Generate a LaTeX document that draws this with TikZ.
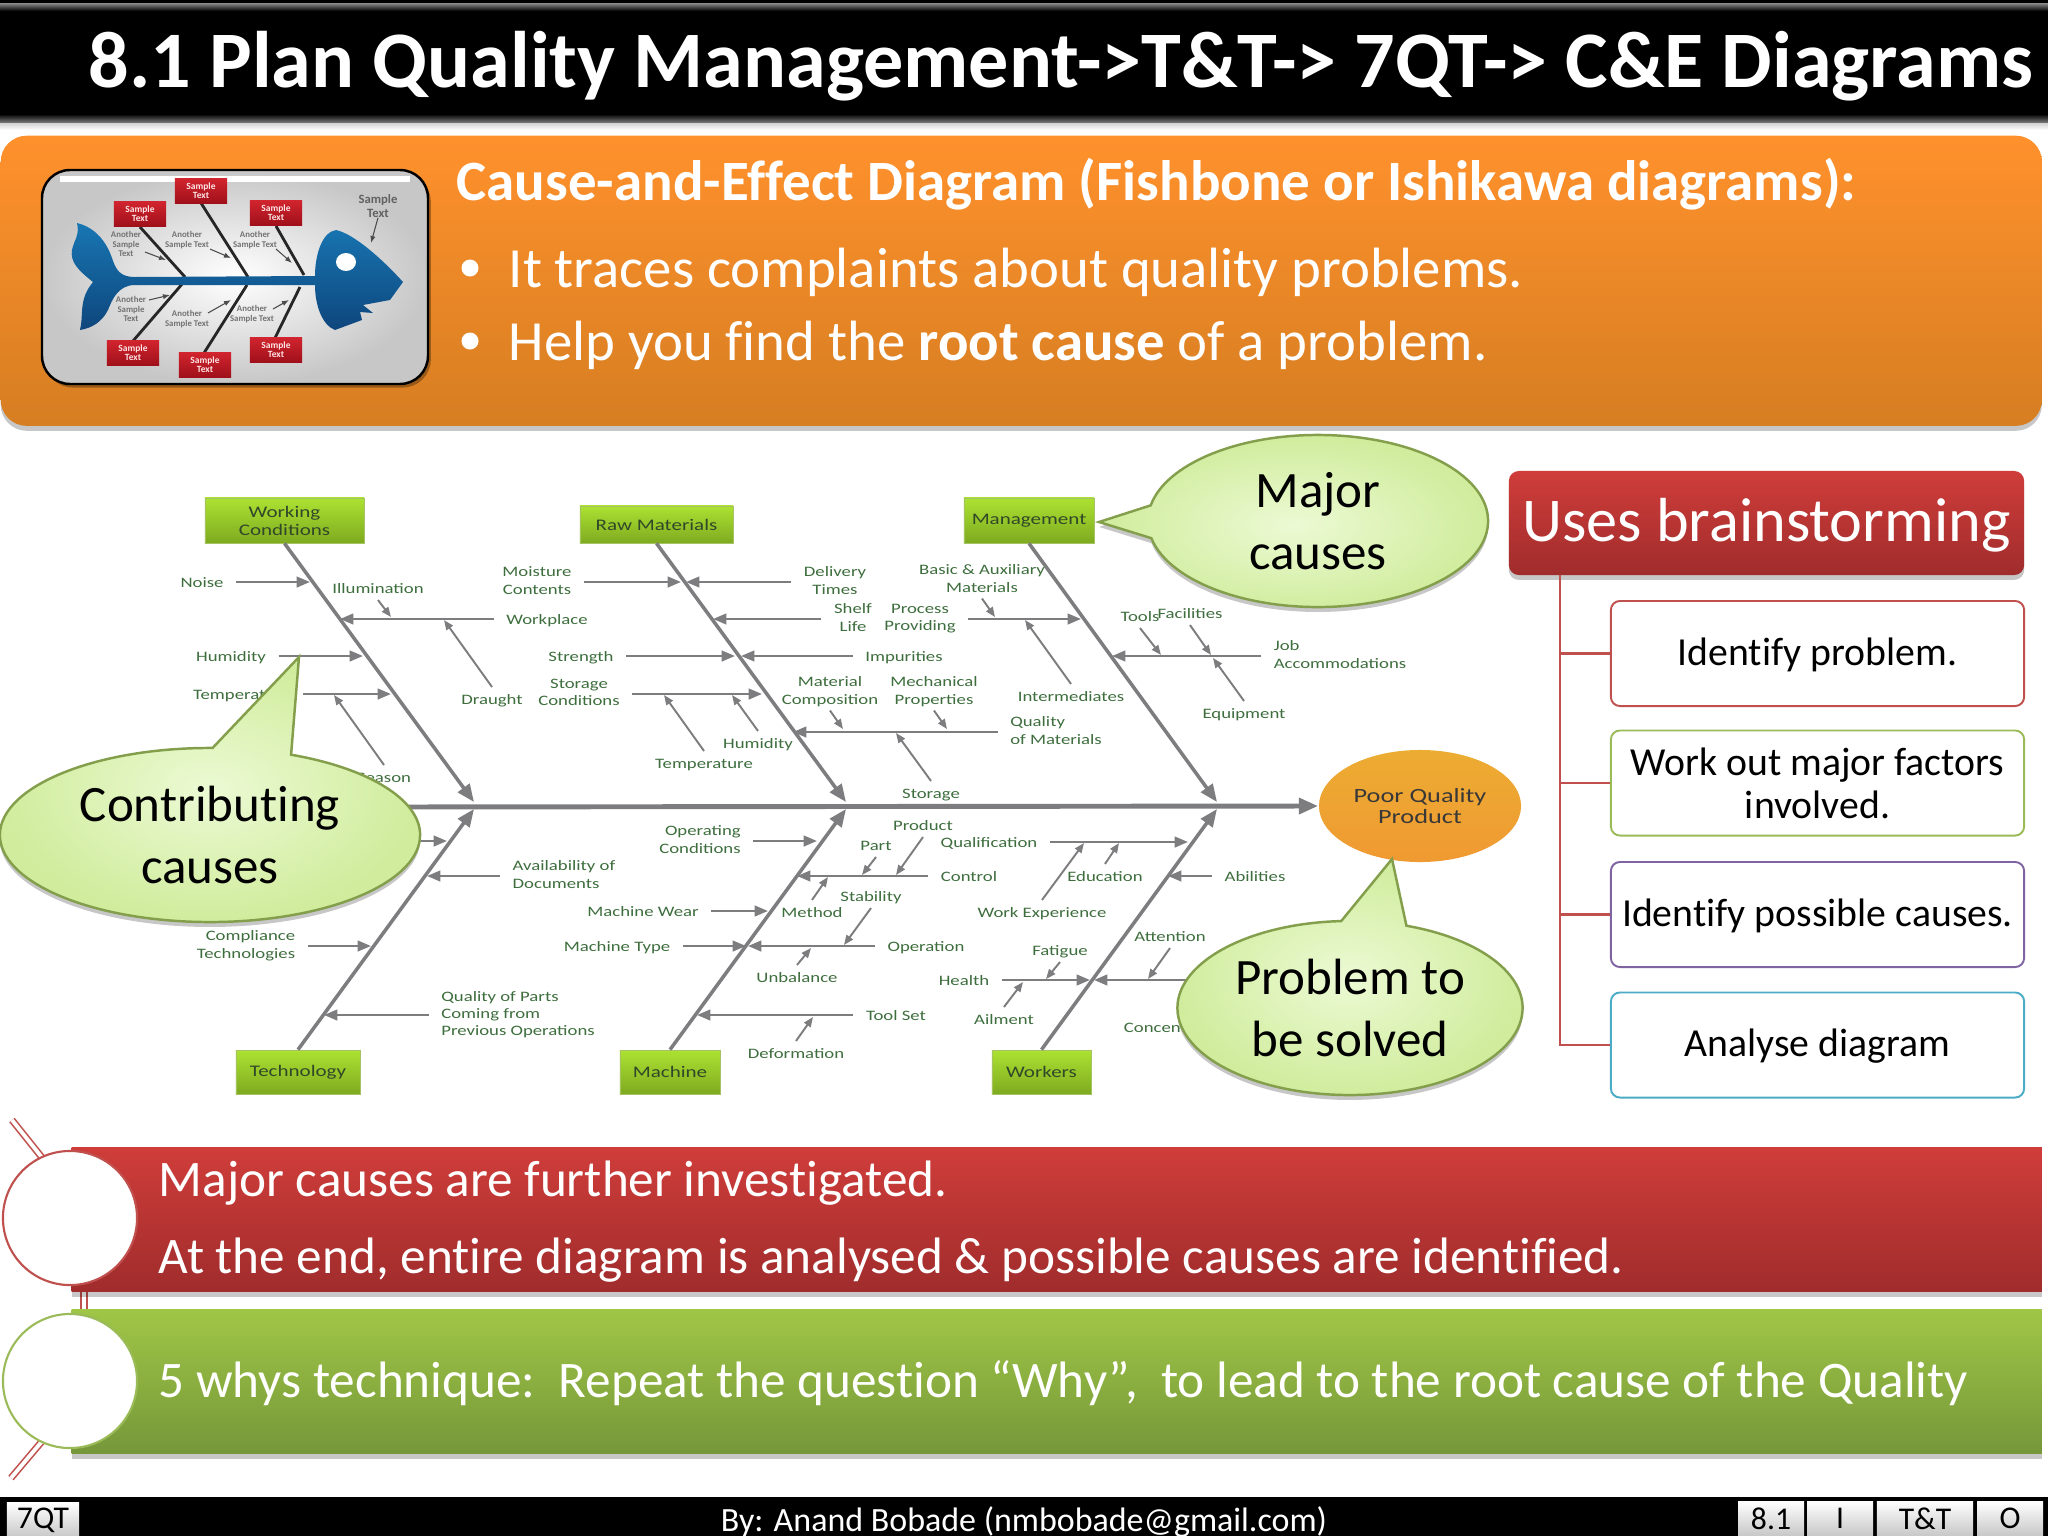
\documentclass[tikz,border=0pt]{standalone}
\usepackage{fontspec}
\setmainfont[Ligatures=NoCommon]{Carlito}
\newfontfamily\fishfont[FakeStretch=1.3]{Carlito}
\usetikzlibrary{arrows.meta,shapes.geometric,shapes.callouts,shadows}
\definecolor{headred}{RGB}{207,61,58}
\definecolor{footred}{RGB}{160,44,44}
\definecolor{linered}{RGB}{192,80,77}
\definecolor{headgreen}{RGB}{160,198,70}
\definecolor{footgreen}{RGB}{118,151,58}
\definecolor{linegreen}{RGB}{155,187,89}
\definecolor{linepurple}{RGB}{128,100,162}
\definecolor{linecyan}{RGB}{75,172,198}
\definecolor{ocretop}{RGB}{255,145,44}
\definecolor{ocrebot}{RGB}{214,126,34}
\definecolor{bonegray}{RGB}{125,125,128}
\definecolor{causegreen}{RGB}{62,110,62}
\definecolor{fishtop}{RGB}{24,118,178}
\definecolor{fishbot}{RGB}{14,70,125}
\definecolor{cattop}{RGB}{172,226,50}
\definecolor{catbot}{RGB}{126,170,32}
\definecolor{cattext}{RGB}{48,72,40}
\definecolor{bubin}{RGB}{236,250,212}
\definecolor{bubout}{RGB}{208,236,156}
\definecolor{sampletop}{RGB}{208,36,46}
\definecolor{samplebot}{RGB}{160,16,26}
\definecolor{pqptop}{RGB}{236,172,50}
\definecolor{pqpbot}{RGB}{240,154,50}
\tikzset{
  softshadow/.style={drop shadow={shadow xshift=0pt,shadow yshift=-1.4pt,opacity=.22,fill=black}},
  cause/.style={font=\fishfont\fontsize{4.1}{4.85}\selectfont,text=causegreen,align=center,inner xsep=3.4pt,inner ysep=0.8pt,execute at begin node={\rule{0pt}{4pt}},execute at end node={\rule[-0.85pt]{0pt}{0.85pt}}},
  twig/.style={draw=bonegray,line width=0.7pt,-{Triangle[length=3.8pt,width=3pt]}},
  subtwig/.style={draw=bonegray,line width=0.55pt,-{Triangle[length=2.8pt,width=2.2pt]}},
  bone/.style={draw=bonegray,line width=1pt,-{Triangle[length=5pt,width=4pt]}},
  catbox/.style={rectangle,inner sep=0pt,top color=cattop,bottom color=catbot,draw=catbot!70!white,line width=0.2pt,font=\fishfont\fontsize{4.6}{5.1}\selectfont,text=cattext,align=center},
  bubble/.style={ellipse callout,inner sep=0pt,callout pointer arc=22,inner color=bubin,outer color=bubout,draw=linegreen!85!black,line width=0.7pt,softshadow,font=\fontsize{14.5}{17.6}\selectfont,align=center},
  brainbox/.style={rectangle,rounded corners=0.09cm,draw,line width=0.55pt,fill=white,minimum width=4.13cm,minimum height=1.05cm,inner sep=0pt,font=\fontsize{11.3}{12.3}\selectfont,align=center},
  lowtext/.style={execute at begin node={\rule{0pt}{8.8pt}},execute at end node={\rule[-2.2pt]{0pt}{2.2pt}}},
  samplebox/.style={rectangle,inner sep=0pt,minimum width=0.52cm,minimum height=0.245cm,top color=sampletop,bottom color=samplebot,font=\bfseries\fontsize{2.7}{3}\selectfont,text=white!90!red,align=center},
  sampletext/.style={font=\bfseries\fontsize{2.5}{2.7}\selectfont,text=black!55,align=center,inner sep=0pt},
  samplearrow/.style={draw=black!70,line width=0.3pt,-{Latex[length=2pt,width=1.5pt]}},
  footbox/.style={rectangle,inner sep=0pt,minimum height=0.35cm,top color=white,bottom color=black!22,font=\fontsize{9}{9}\selectfont},
  dblline/.style={draw=linered,line width=0.45pt,double=white,double distance=1.1pt},
}
\newcommand{\twig}[4]{\coordinate (#1tip) at (#3,#4); \draw[twig] (#1.#2) -- (#1tip);}
\newcommand{\subtwig}[4]{\coordinate (#1tip) at (#3,#4); \draw[subtwig] (#1.#2) -- (#1tip);}
\begin{document}
\begin{tikzpicture}[x=0.01cm,y=-0.01cm]
\useasboundingbox (0,0) rectangle (2048,1536);
\fill[white] (0,0) rectangle (2048,1536);

% title and footer
\shade[top color=black!20,bottom color=white] (0,122) rectangle (2048,130);
\fill[black] (0,0) rectangle (2048,122);
\shade[top color=black!45,bottom color=black] (0,3) rectangle (2048,11);
\shade[top color=black,bottom color=black!55] (0,114) rectangle (2048,122);
\node[anchor=west,inner sep=0pt,text=white,font=\bfseries\fontsize{22.8}{24}\selectfont] (title) at (88,66) {8.1 Plan Quality Management->T\&T-> 7QT-> C\&E Diagrams};
\fill[black] (0,1497) rectangle (2048,1536);
\node[footbox,minimum width=0.72cm] (sevenqt) at (43,1520) {7QT};
\node[inner sep=0pt,text=white,font=\fontsize{9.66}{10}\selectfont] (byline) at (1024,1522) {By: Anand Bobade (nmbobade@gmail.com)};
\foreach \nm/\cx/\bw/\lbl in {fsec/1771/0.66/8.1,fi/1840/0.66/I,ftt/1925/0.96/T\&T,fo/2010/0.66/O}
  \node[footbox,minimum width=\bw cm] (\nm) at (\cx,1518.5) {\lbl};

% orange panel
\node[rectangle,rounded corners=0.26cm,inner sep=0pt,minimum width=20.4cm,minimum height=2.9cm,anchor=north west,top color=ocretop,bottom color=ocrebot,softshadow] (panel) at (0,135) {};
\shade[inner color=white,outer color=black!22,draw=black,line width=0.7pt,rounded corners=0.28cm,drop shadow={shadow xshift=0.8pt,shadow yshift=-1pt,opacity=.3,fill=black}] (42,170) rectangle (428,384);
\draw[white,line width=1.6pt] (60,179) -- (410,179);
\draw[black!85,line width=0.8pt] (140,227) -- (185,277) (201,203) -- (248,277) (276,226) -- (304,275) (133,341) -- (183,283) (204,353) -- (247,285) (275,338) -- (300,287);
% fish
\shade[top color=fishtop,bottom color=fishbot] (77,223) .. controls (98,228) and (108,246) .. (112,258) .. controls (116,270) and (120,277) .. (135,277) -- (315,276) .. controls (315,255) and (322,232) .. (336,230) .. controls (355,234) and (385,262) .. (403,282) -- (390,300) -- (363,305) -- (373,313) -- (360,312) -- (362,320) -- (335,330) .. controls (322,325) and (315,305) .. (315,285) -- (135,285) .. controls (118,285) and (112,300) .. (108,310) .. controls (102,322) and (92,328) .. (80,330) .. controls (84,315) and (78,300) .. (93,282) .. controls (78,270) and (70,262) .. (72,250) .. controls (74,240) and (80,235) .. (77,223) -- cycle;
\fill[white] (346,262) ellipse (10 and 9);
\foreach \nm/\cx/\cy in {tl/140/214,tm/201/191,tr/276/213,bl/133/353,bm/205/365,br/276/350}
  \node[samplebox] (s\nm) at (\cx,\cy) {Sample\\[-0.4pt]Text};
\node[sampletext,font=\bfseries\fontsize{3.6}{3.8}\selectfont,text=black!62] (shead) at (378,206) {Sample\\Text};
\coordinate (sheadtip) at (371,243);
\draw[samplearrow] (shead.south) -- (sheadtip);
\foreach \nm/\cx/\cy/\lbl/\sx/\sy/\ex/\ey in {
  at/126/244/Another\\Sample\\Text/145/252/166/260,
  am/187/240/Another\\Sample Text/210/249/231/258,
  ar/255/240/Another\\Sample Text/276/249/292/263,
  bt/131/309/Another\\Sample\\Text/149/300/170/295,
  bm/187/319/Another\\Sample Text/208/313/231/300,
  br/252/314/Another\\Sample Text/273/309/289/300}{
  \node[sampletext] (n\nm) at (\cx,\cy) {\lbl};
  \coordinate (n\nm a) at (\sx,\sy);
  \coordinate (n\nm b) at (\ex,\ey);
  \draw[samplearrow] (n\nm a) -- (n\nm b);
}
\node[anchor=west,inner sep=0pt,text=white,font=\bfseries\fontsize{16.2}{18}\selectfont] (panelhead) at (456,184) {Cause-and-Effect Diagram (Fishbone or Ishikawa diagrams):};
\fill[white] (470,268) circle (8.5) (470,341) circle (8.5);
\node[anchor=west,inner sep=0pt,text=white,font=\fontsize{16.15}{18}\selectfont] (panelone) at (508,272) {It traces complaints about quality problems.};
\node[anchor=west,inner sep=0pt,text=white,font=\fontsize{16.15}{18}\selectfont] (paneltwo) at (508,345) {Help you find the \textbf{root cause} of a problem.};

% fishbone: heads and spine
\node[catbox,minimum width=1.59cm,minimum height=0.45cm] (workcond) at (284.5,520.5) {Working\\Conditions};
\node[catbox,minimum width=1.53cm,minimum height=0.37cm] (rawmat) at (656.5,524.5) {Raw Materials};
\node[catbox,minimum width=1.30cm,minimum height=0.45cm] (mgmt) at (1029,520.5) {Management};
\node[catbox,minimum width=1.24cm,minimum height=0.44cm] (techno) at (298,1072) {Technology};
\node[catbox,minimum width=1.00cm,minimum height=0.44cm] (machine) at (670,1072) {Machine};
\node[catbox,minimum width=0.99cm,minimum height=0.44cm] (workers) at (1041.5,1072) {Workers};
\node[ellipse,inner sep=0pt,minimum width=2.02cm,minimum height=1.12cm,top color=pqptop,bottom color=pqpbot,font=\fishfont\fontsize{5.75}{6.1}\selectfont,text=black!78,align=center] (pqp) at (1420,806) {Poor Quality\\Product};
\coordinate (spinestart) at (380,807);
\draw[draw=bonegray,line width=1.4pt,-{Triangle[length=5.5pt,width=4.4pt]}] (spinestart) -- (pqp.west);
\foreach \nm/\cx/\cy in {a/474/802,b/846/802,c/1217/802,d/474/809,e/846/809,f/1217/809}
  \coordinate (jn\nm) at (\cx,\cy);
\draw[bone] (workcond.south) -- (jna);
\draw[bone] (rawmat.south) -- (jnb);
\draw[bone] (mgmt.south) -- (jnc);
\draw[bone] (techno.north) -- (jnd);
\draw[bone] (machine.north) -- (jne);
\draw[bone] (workers.north) -- (jnf);

% causes, upper half
\node[cause] (noise) at (202,582) {Noise}; \twig{noise}{east}{310}{582}
\node[cause] (illum) at (378,588) {Illumination}; \subtwig{illum}{south}{391}{617}
\node[cause] (workplace) at (547,619) {Workplace}; \twig{workplace}{west}{340}{619}
\node[cause] (draught) at (492,699) {Draught}; \subtwig{draught}{north}{444}{620}
\node[cause] (humleft) at (231,656) {Humidity}; \twig{humleft}{east}{363}{656}
\node[cause] (templeft) at (242,694) {Temperature}; \twig{templeft}{east}{391}{694}
\node[cause] (season) at (384,777) {Season}; \subtwig{season}{north}{334}{695}
\node[cause] (moisture) at (537,582) {Moisture\\Contents}; \twig{moisture}{east}{681}{582}
\node[cause] (delivery) at (835,582) {Delivery\\Times}; \twig{delivery}{west}{686}{582}
\node[cause] (shelf) at (853,619) {Shelf\\Life}; \twig{shelf}{west}{713}{619}
\node[cause] (strength) at (581,656) {Strength}; \twig{strength}{east}{735}{656}
\node[cause] (impure) at (904,656) {Impurities}; \twig{impure}{west}{741}{656}
\node[cause] (storecond) at (579,694) {Storage\\Conditions}; \twig{storecond}{east}{762}{694}
\node[cause] (tempmid) at (704,763) {Temperature}; \subtwig{tempmid}{north}{664}{695}
\node[cause] (hummid) at (758,743) {Humidity}; \subtwig{hummid}{north}{732}{695}
\node[cause] (material) at (830,692) {Material\\Composition}; \subtwig{material}{south}{843}{729}
\node[cause,align=left] (qualmat) at (1056,732) {Quality\\of Materials}; \twig{qualmat}{west}{793}{732}
\node[cause] (mechprop) at (934,692) {Mechanical\\Properties}; \subtwig{mechprop}{south}{947}{729}
\node[cause] (storage) at (931,793) {Storage}; \subtwig{storage}{north}{896}{733}
\node[cause] (basic) at (982,580) {Basic \& Auxiliary\\Materials}; \subtwig{basic}{south}{995}{617}
\node[cause] (process) at (920,619) {Process\\Providing}; \twig{process}{east}{1081}{619}
\node[cause] (intermed) at (1071,696) {Intermediates}; \subtwig{intermed}{north}{1025}{620}
\node[cause] (tools) at (1140,616) {Tools}; \subtwig{tools}{south}{1161}{655}
\node[cause] (facil) at (1190,613) {Facilities}; \subtwig{facil}{south}{1211}{655}
\node[cause,align=left] (jobacc) at (1340,656) {Job\\Accommodations}; \twig{jobacc}{west}{1112}{656}
\node[cause] (equip) at (1244,713) {Equipment}; \subtwig{equip}{north}{1213}{658}

% causes, lower half
\coordinate (hiddenstart) at (400,841);
\coordinate (hiddentip) at (447,841);
\draw[twig] (hiddenstart) -- (hiddentip);
\node[cause,align=left] (avail) at (564,876) {Availability of\\Documents}; \twig{avail}{west}{427}{876}
\node[cause,align=right] (comply) at (246,946) {Compliance\\Technologies}; \twig{comply}{east}{371}{946}
\node[cause,align=left] (qualparts) at (518,1015) {Quality of Parts\\Coming from\\Previous Operations}; \twig{qualparts}{west}{324}{1015}
\node[cause,align=right] (opcond) at (700,841) {Operating\\Conditions}; \twig{opcond}{east}{817}{841}
\node[cause] (mwear) at (643,911) {Machine Wear}; \twig{mwear}{east}{768}{911}
\node[cause] (mtype) at (617,946) {Machine Type}; \twig{mtype}{east}{746}{946}
\node[cause] (control) at (969,876) {Control}; \twig{control}{west}{797}{876}
\node[cause] (product) at (923,825) {Product}; \subtwig{product}{south}{896}{875}
\node[cause] (part) at (876,845) {Part}; \subtwig{part}{south}{862}{875}
\node[cause] (method) at (812,912) {Method}; \subtwig{method}{north}{828}{877}
\node[cause] (stability) at (871,896) {Stability}; \subtwig{stability}{south}{844}{945}
\node[cause] (operation) at (926,946) {Operation}; \twig{operation}{west}{748}{946}
\node[cause] (unbal) at (797,977) {Unbalance}; \subtwig{unbal}{north}{811}{948}
\node[cause] (toolset) at (896,1015) {Tool Set}; \twig{toolset}{west}{697}{1015}
\node[cause] (deform) at (796,1053) {Deformation}; \subtwig{deform}{north}{813}{1017}
\node[cause] (qualif) at (989,842) {Qualification}; \twig{qualif}{east}{1188}{842}
\node[cause] (educ) at (1105,876) {Education}; \subtwig{educ}{north}{1119}{843}
\node[cause] (workexp) at (1042,912) {Work Experience}; \subtwig{workexp}{north}{1084}{843}
\node[cause] (abilities) at (1255,876) {Abilities}; \twig{abilities}{west}{1168}{876}
\node[cause] (attention) at (1170,936) {Attention}; \subtwig{attention}{south}{1148}{979}
\node[cause] (fatigue) at (1060,950) {Fatigue}; \subtwig{fatigue}{south}{1046}{979}
\node[cause] (health) at (964,980) {Health}; \twig{health}{east}{1090}{980}
\node[cause] (ailment) at (1004,1019) {Ailment}; \subtwig{ailment}{north}{1023}{982}
\node[cause] (concen) at (1178,1027) {Concentration};
\coordinate (concenstart) at (1195,980);
\coordinate (concentip) at (1094,980);
\draw[twig] (concenstart) -- (concentip);

% speech bubbles
\node[bubble,minimum width=3.4cm,minimum height=1.72cm,callout absolute pointer={(1099,522)}] (majorbub) at (1318,521) {Major\\causes};
\node[bubble,minimum width=4.2cm,minimum height=1.74cm,callout absolute pointer={(299,657)}] (contribbub) at (210,835) {Contributing\\causes};
\node[bubble,minimum width=3.45cm,minimum height=1.74cm,callout absolute pointer={(1392,859)}] (problembub) at (1350,1008) {Problem to\\be solved};

% brainstorming tree
\node[rectangle,rounded corners=0.1cm,inner sep=0pt,minimum width=5.15cm,minimum height=1.04cm,top color=headred,bottom color=footred,softshadow,text=white,font=\fontsize{17.7}{20}\selectfont,execute at begin node={\rule{0pt}{13.8pt}},execute at end node={\rule[-3.4pt]{0pt}{3.4pt}}] (usesbox) at (1766.5,523) {Uses brainstorming};
\node[brainbox,lowtext,draw=linered] (identprob) at (1817.5,653.5) {Identify problem.};
\node[brainbox,draw=linegreen] (workout) at (1817.5,783) {Work out major factors\\involved.};
\node[brainbox,lowtext,draw=linepurple] (identcause) at (1817.5,914.5) {Identify possible causes.};
\node[brainbox,lowtext,draw=linecyan] (analyse) at (1817.5,1045) {Analyse diagram};
\coordinate (trunk) at (1560,575);
\foreach \nm in {identprob,workout,identcause,analyse}
  \draw[linered,line width=0.6pt] (trunk) |- (\nm.west);

% bottom bars
\coordinate (stemtopa) at (12,1120);
\coordinate (stemtopb) at (60,1180);
\coordinate (stemmida) at (84,1280);
\coordinate (stemmidb) at (84,1320);
\coordinate (stembota) at (11,1478);
\coordinate (stembotb) at (60,1420);
\draw[dblline] (stemtopa) -- (stemtopb);
\draw[dblline] (stemmida) -- (stemmidb);
\draw[dblline] (stembota) -- (stembotb);
\node[rectangle,inner sep=0pt,minimum width=19.69cm,minimum height=1.44cm,anchor=north west,top color=headred,bottom color=footred,softshadow] (redbar) at (71,1147) {};
\node[rectangle,inner sep=0pt,minimum width=19.69cm,minimum height=1.44cm,anchor=north west,top color=headgreen,bottom color=footgreen,softshadow] (greenbar) at (71,1309) {};
\node[circle,inner sep=0pt,minimum size=1.34cm,fill=white,draw=linered,line width=0.6pt] (redcircle) at (70,1218) {};
\node[circle,inner sep=0pt,minimum size=1.34cm,fill=white,draw=linegreen,line width=0.6pt] (greencircle) at (70,1381) {};
\node[anchor=west,inner sep=0pt,text=white,font=\fontsize{14.57}{16}\selectfont] (barone) at (158,1183) {Major causes are further investigated.};
\node[anchor=west,inner sep=0pt,text=white,font=\fontsize{14.57}{16}\selectfont] (bartwo) at (158,1260) {At the end, entire diagram is analysed \& possible causes are identified.};
\node[anchor=west,inner sep=0pt,text=white,font=\fontsize{14.57}{16}\selectfont] (barthree) at (158,1383) {5 whys technique:\ \ Repeat the question “Why”,\ \ to lead to the root cause of the Quality};
\end{tikzpicture}
\end{document}
